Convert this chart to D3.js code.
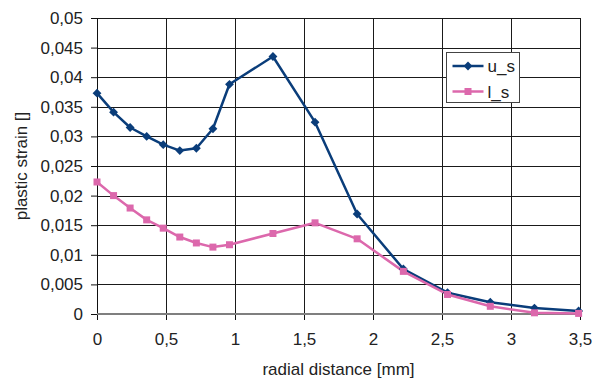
<!DOCTYPE html>
<html>
<head>
<meta charset="utf-8">
<script src="https://cdn.jsdelivr.net/npm/d3@7"></script>
<style>
  body { margin: 0; background: #fff; }
  svg text { font-family: "Liberation Sans", Arial, sans-serif; fill: #222; }
</style>
</head>
<body>
<svg id="chart" width="593" height="380"></svg>
<script>
// Data ////////////////////////////////////////////////////////////////
var radial = [0, 0.12, 0.24, 0.36, 0.48, 0.6, 0.72, 0.84, 0.96, 1.275, 1.58, 1.885, 2.22, 2.54, 2.85, 3.17, 3.49];
var uS = [0.0373, 0.0341, 0.0315, 0.0300, 0.0286, 0.0276, 0.0280, 0.0313, 0.0388, 0.0435, 0.0324, 0.0169, 0.0076, 0.0036, 0.0020, 0.0010, 0.0005];
var lS = [0.0223, 0.0200, 0.0179, 0.0159, 0.0145, 0.0130, 0.0120, 0.0113, 0.0117, 0.0136, 0.0154, 0.0127, 0.0072, 0.0033, 0.0013, 0.0002, 0.0001];
var xTicks = [0, 0.5, 1, 1.5, 2, 2.5, 3, 3.5];
var yTicks = [0, 0.005, 0.01, 0.015, 0.02, 0.025, 0.03, 0.035, 0.04, 0.045, 0.05];
var seriesNames = ["u_s", "l_s"];
var seriesColors = ["#0a3d7a", "#dc68ac"];

var margin = {top: 18, right: 13, bottom: 66, left: 97};
var width = 593 - margin.left - margin.right;
var height = 380 - margin.top - margin.bottom;

var svg = d3.select("#chart");
var g = svg.append("g")
    .attr("transform", "translate(" + margin.left + "," + margin.top + ")");

// Scales
var scaleX = d3.scaleLinear().domain([0, 3.5]).range([0, width]);
var scaleY = d3.scaleLinear().domain([0, 0.05]).range([height, 0]);

var fmt = function(d) { return String(d).replace(".", ","); };

// Grid lines
g.selectAll(".hgrid")
    .data(yTicks.slice(1))
    .enter()
    .append("line")
        .attr("x1", 0)
        .attr("x2", width)
        .attr("y1", function(d) { return Math.round(scaleY(d)) + 0.5 })
        .attr("y2", function(d) { return Math.round(scaleY(d)) + 0.5 })
        .attr("stroke", "#1a1a1a")
        .attr("stroke-width", 1);

g.selectAll(".vgrid")
    .data(xTicks.slice(1))
    .enter()
    .append("line")
        .attr("x1", function(d) { return Math.round(scaleX(d)) + 0.5 })
        .attr("x2", function(d) { return Math.round(scaleX(d)) + 0.5 })
        .attr("y1", 0)
        .attr("y2", height)
        .attr("stroke", "#1a1a1a")
        .attr("stroke-width", 1);

// Axes
var xAxis = d3.axisBottom(scaleX).tickValues(xTicks).tickFormat(fmt).tickSize(6).tickPadding(13);
var yAxis = d3.axisLeft(scaleY).tickValues(yTicks).tickFormat(fmt).tickSize(6).tickPadding(8);

var gy = g.append("g").call(yAxis);
gy.select(".domain").remove();
gy.append("line")
    .attr("x1", 0.5).attr("x2", 0.5)
    .attr("y1", 0).attr("y2", height)
    .attr("stroke", "#111");
gy.selectAll("text").attr("font-size", 17).attr("fill", "#222")
    .attr("font-family", "Liberation Sans, Arial, sans-serif");
gy.selectAll(".tick line").attr("stroke", "#111");

var gx = g.append("g").attr("transform", "translate(0," + height + ")").call(xAxis);
gx.select(".domain").remove();
gx.selectAll(".tick line").attr("stroke", "#111");
gx.selectAll("text").attr("font-size", 17).attr("fill", "#222")
    .attr("font-family", "Liberation Sans, Arial, sans-serif");
gx.append("line")
    .attr("x1", 0).attr("x2", width)
    .attr("y1", 0).attr("y2", 0)
    .attr("stroke", "#7f7f7f")
    .attr("stroke-width", 2);

// Series
var series = [uS, lS];
var line = d3.line()
    .x(function(d, i) { return scaleX(radial[i]) })
    .y(function(d) { return scaleY(d) });

series.forEach(function(vals, s) {
    g.append("path")
        .datum(vals)
        .attr("d", line)
        .attr("fill", "none")
        .attr("stroke", seriesColors[s])
        .attr("stroke-width", 2.5)
        .attr("stroke-linejoin", "round");
});

// Markers: diamonds for u_s, squares for l_s
g.selectAll(".mk-u")
    .data(uS)
    .enter()
    .append("path")
        .attr("d", d3.symbol().type(d3.symbolDiamond2).size(50))
        .attr("transform", function(d, i) { return "translate(" + scaleX(radial[i]) + "," + scaleY(d) + ")" })
        .attr("fill", seriesColors[0]);

g.selectAll(".mk-l")
    .data(lS)
    .enter()
    .append("rect")
        .attr("width", 7)
        .attr("height", 7)
        .attr("x", function(d, i) { return scaleX(radial[i]) - 3.5 })
        .attr("y", function(d) { return scaleY(d) - 3.5 })
        .attr("fill", seriesColors[1]);

// Legend
var legend = svg.append("g").attr("transform", "translate(446.5,52.5)");
legend.append("rect")
    .attr("width", 73)
    .attr("height", 50)
    .attr("fill", "#fff")
    .attr("stroke", "#444");

seriesNames.forEach(function(name, i) {
    var ly = 13.5 + i * 25.5;
    legend.append("line")
        .attr("x1", 6).attr("x2", 37)
        .attr("y1", ly).attr("y2", ly)
        .attr("stroke", seriesColors[i])
        .attr("stroke-width", 2.5);
    if (i === 0) {
        legend.append("path")
            .attr("d", d3.symbol().type(d3.symbolDiamond2).size(50))
            .attr("transform", "translate(21.5," + ly + ")")
            .attr("fill", seriesColors[i]);
    } else {
        legend.append("rect")
            .attr("x", 18).attr("y", ly - 3.5)
            .attr("width", 7).attr("height", 7)
            .attr("fill", seriesColors[i]);
    }
    legend.append("text")
        .attr("x", 41)
        .attr("y", ly + 6)
        .attr("font-size", 17)
        .text(name);
});

// Axis titles
svg.append("text")
    .attr("x", margin.left + width / 2)
    .attr("y", 375)
    .attr("text-anchor", "middle")
    .attr("font-size", 17)
    .text("radial distance [mm]");

svg.append("text")
    .attr("transform", "translate(27," + (margin.top + height / 2) + ") rotate(-90)")
    .attr("text-anchor", "middle")
    .attr("font-size", 17)
    .text("plastic strain []");
</script>
</body>
</html>
